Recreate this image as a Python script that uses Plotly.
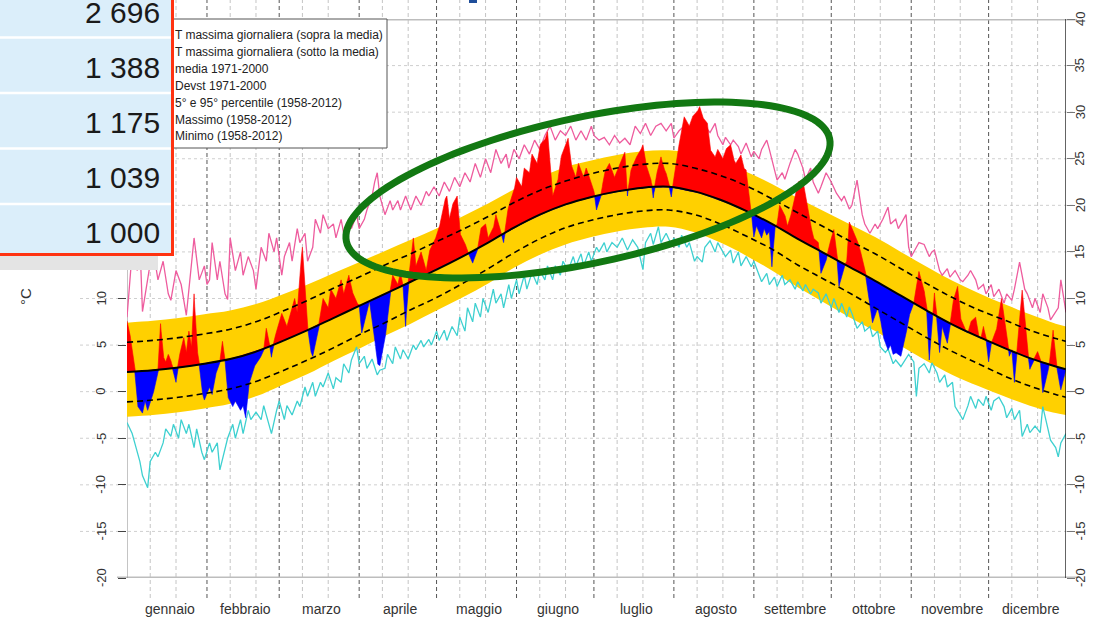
import numpy as np
import plotly.graph_objects as go

# ---------------------------------------------------------------------------
# Daily maximum temperature (°C) – climatology 1971-2000 sampled every 10 days
# ---------------------------------------------------------------------------
CLIM_DAY = list(range(0, 361, 10)) + [364]
MEAN = [2.1, 2.3, 2.6, 3.0, 3.5, 4.3, 5.4, 6.6, 7.9, 9.2, 10.5, 11.8, 13.1, 14.5,
        16.0, 17.6, 19.0, 20.1, 20.9, 21.5, 21.9, 22.0, 21.5, 20.6, 19.4, 18.0,
        16.4, 14.9, 13.4, 11.9, 10.3, 8.7, 7.2, 5.9, 4.7, 3.6, 2.7, 2.4]
SD = [3.2, 3.2, 3.2, 3.2, 3.2, 3.2, 3.2, 3.2, 3.2, 3.1, 3.1, 3.0, 3.0, 2.9,
      2.8, 2.7, 2.6, 2.5, 2.5, 2.5, 2.5, 2.5, 2.5, 2.6, 2.7, 2.7, 2.8, 2.8,
      2.8, 2.9, 2.9, 2.9, 2.9, 2.9, 3.0, 3.0, 3.0, 3.0]
P95 = [7.4, 7.6, 7.9, 8.3, 8.7, 9.4, 10.4, 11.5, 12.7, 13.9, 15.1, 16.3, 17.5,
       18.8, 20.2, 21.7, 23.0, 24.1, 24.8, 25.4, 25.8, 25.9, 25.5, 24.7, 23.6,
       22.3, 20.8, 19.4, 18.0, 16.6, 15.0, 13.4, 11.9, 10.6, 9.4, 8.3, 7.3, 7.0]
P05 = [-2.7, -2.5, -2.2, -1.8, -1.3, -0.5, 0.7, 1.9, 3.3, 4.6, 6.0, 7.3, 8.7,
       10.1, 11.6, 13.3, 14.7, 15.8, 16.6, 17.2, 17.6, 17.7, 17.1, 16.0, 14.6,
       13.0, 11.2, 9.6, 8.0, 6.5, 4.9, 3.3, 1.8, 0.6, -0.5, -1.5, -2.3, -2.5]

# Observed daily maximum of the year (day of year from 0)
OBS_DAY = [
    0, 1, 3, 4, 6, 7, 8, 9, 10, 12, 13, 14, 15, 16, 17, 18, 19, 20, 22, 23,
    24, 25, 26, 27, 28, 29, 30, 32, 33, 34, 36, 37, 38, 39, 41, 42, 44, 45, 46, 47,
    48, 49, 50, 52, 53, 54, 55, 56, 57, 59, 60, 62, 63, 65, 66, 67, 68, 69, 70, 71,
    72, 74, 75, 76, 78, 79, 81, 83, 84, 86, 87, 89, 90, 91, 93, 94, 96, 97, 98, 100,
    101, 102, 103, 105, 106, 107, 108, 109, 110, 111, 112, 114, 115, 116, 117, 119, 121, 123, 124, 125,
    126, 128, 129, 131, 132, 133, 134, 136, 137, 139, 140, 142, 143, 145, 146, 147, 148, 150, 151, 153,
    154, 156, 157, 159, 160, 162, 163, 164, 165, 167, 168, 170, 171, 172, 174, 175, 177, 178, 180, 181,
    182, 184, 185, 187, 189, 191, 193, 194, 195, 197, 199, 200, 201, 203, 204, 205, 207, 208, 209, 211,
    212, 214, 215, 216, 218, 219, 221, 222, 223, 225, 226, 228, 229, 231, 232, 234, 235, 236, 238, 239,
    240, 241, 242, 243, 244, 246, 247, 248, 249, 250, 251, 252, 253, 255, 256, 257, 259, 260, 262, 263,
    265, 266, 268, 269, 271, 272, 274, 275, 276, 278, 279, 280, 282, 284, 286, 288, 289, 291, 292, 293,
    295, 296, 297, 298, 300, 301, 302, 303, 305, 306, 307, 309, 310, 311, 312, 313, 314, 315, 316, 317,
    318, 319, 320, 322, 323, 325, 326, 327, 329, 330, 331, 332, 333, 334, 335, 337, 338, 339, 341, 342,
    343, 344, 345, 346, 347, 348, 349, 350, 352, 353, 354, 355, 357, 358, 359, 360, 361, 362, 364]
OBS_TMAX = [
    7.6, 6.5, 2.3, -1.5, -2.3, -1.0, -2.0, -1.2, -0.5, 2.4, 7.3, 3.8, 3.2, 4.0, 3.4, 2.0, 1.0, 3.5, 5.8, 4.2,
    6.5, 4.8, 10.5, 5.0, 2.9, 0.0, -0.9, 0.5, -0.3, 1.5, 3.3, 5.4, 3.4, -0.5, -1.6, -1.0, -2.0, -1.5, -2.8, 0.5,
    1.5, 2.5, 3.0, 3.8, 4.5, 6.8, 5.5, 3.7, 5.5, 7.5, 8.4, 7.0, 8.0, 10.0, 8.5, 13.0, 15.5, 11.0, 7.0, 4.5,
    3.8, 6.5, 8.5, 10.0, 9.0, 11.0, 10.0, 12.0, 10.5, 12.5, 11.0, 9.5, 9.3, 6.3, 8.5, 9.7, 6.0, 3.0, 2.8, 5.5,
    8.0, 10.8, 12.5, 11.5, 12.8, 11.3, 7.0, 11.8, 14.0, 16.5, 13.5, 15.0, 14.0, 13.0, 15.0, 16.0, 17.5, 20.5, 21.0, 18.5,
    20.0, 21.0, 17.0, 16.0, 15.0, 14.5, 13.8, 15.5, 17.5, 18.0, 16.5, 17.5, 19.0, 17.0, 16.0, 18.5, 20.0, 21.5, 23.0, 22.0,
    24.0, 23.5, 25.5, 24.5, 26.5, 27.0, 27.9, 25.0, 21.0, 22.5, 25.0, 26.5, 27.2, 24.5, 23.0, 24.5, 23.0, 24.0, 22.5, 21.5,
    19.5, 21.5, 23.5, 24.5, 23.0, 24.5, 25.7, 21.0, 23.5, 25.0, 25.8, 26.5, 24.5, 23.0, 20.8, 23.0, 25.2, 24.0, 23.5, 20.9,
    23.0, 26.5, 28.0, 29.5, 28.5, 29.5, 30.0, 30.6, 29.5, 28.8, 26.0, 25.2, 26.0, 25.0, 26.0, 26.5, 25.0, 24.5, 25.4, 24.0,
    23.8, 21.0, 19.3, 16.6, 17.8, 16.5, 17.5, 16.8, 17.2, 13.4, 17.5, 18.0, 20.0, 19.0, 17.8, 18.5, 21.0, 22.5, 22.7, 21.0,
    18.0, 16.5, 16.0, 12.7, 14.0, 15.5, 17.4, 15.0, 11.3, 13.5, 14.0, 18.2, 17.0, 15.5, 13.0, 9.5, 7.4, 9.0, 8.0, 6.0,
    4.5, 5.0, 4.0, 4.2, 3.8, 5.0, 6.0, 8.0, 9.5, 11.5, 12.9, 11.0, 8.6, 3.4, 7.0, 10.6, 7.5, 4.2, 7.0, 6.0,
    5.2, 7.0, 9.5, 11.3, 8.0, 6.5, 6.3, 7.5, 8.0, 6.0, 5.7, 7.0, 5.6, 3.2, 5.2, 6.5, 8.5, 10.0, 6.5, 3.8,
    4.5, 1.0, 4.5, 8.0, 10.9, 8.5, 4.5, 2.4, 3.8, 4.3, 3.5, -0.1, 2.0, 4.0, 6.6, 3.5, 1.5, 0.2, 2.4]

# Record maximum (1958-2012)
MAX_DAY = [
    0, 2, 4, 5, 6, 8, 10, 12, 14, 16, 17, 19, 21, 23, 24, 26, 28, 30, 31, 32,
    33, 35, 36, 38, 39, 40, 42, 44, 45, 47, 49, 50, 52, 54, 55, 57, 58, 60, 61, 63,
    64, 66, 67, 69, 70, 72, 73, 75, 76, 78, 80, 81, 83, 84, 86, 87, 89, 90, 92, 93,
    95, 96, 97, 98, 100, 102, 103, 105, 106, 108, 110, 112, 114, 116, 117, 119, 121, 123, 125, 127,
    129, 131, 133, 135, 137, 139, 141, 143, 145, 147, 148, 150, 152, 154, 156, 158, 160, 162, 164, 166,
    168, 170, 172, 174, 176, 178, 180, 181, 183, 185, 187, 189, 191, 193, 195, 197, 199, 201, 203, 205,
    207, 209, 211, 212, 214, 216, 218, 220, 222, 224, 226, 228, 229, 231, 232, 234, 235, 237, 238, 240,
    242, 243, 245, 246, 248, 249, 251, 252, 254, 255, 257, 259, 260, 262, 263, 265, 266, 268, 269, 271,
    273, 275, 277, 278, 280, 281, 283, 285, 286, 288, 290, 291, 293, 295, 296, 298, 299, 301, 302, 303,
    304, 306, 307, 309, 311, 312, 313, 315, 316, 318, 319, 321, 323, 324, 326, 327, 329, 330, 332, 333,
    335, 336, 338, 340, 341, 343, 344, 346, 348, 349, 351, 352, 354, 355, 357, 358, 360, 361, 362, 364]
MAX_T = [
    8.0, 15.0, 13.0, 16.0, 8.6, 12.0, 15.5, 12.0, 14.0, 10.5, 9.8, 13.0, 11.5, 8.2, 11.0, 16.5, 12.0, 13.5, 11.5, 12.0,
    16.0, 12.0, 14.0, 10.5, 9.9, 16.5, 13.0, 15.0, 12.5, 14.5, 13.0, 11.0, 15.5, 14.0, 17.0, 15.0, 16.5, 12.5, 14.5, 16.0,
    14.0, 17.5, 16.0, 17.0, 14.0, 15.5, 18.5, 17.0, 19.0, 17.5, 18.0, 16.5, 18.5, 17.0, 18.5, 17.5, 19.0, 17.5, 18.5, 19.5,
    21.0, 22.5, 23.5, 21.0, 19.0, 20.5, 19.5, 20.5, 19.5, 21.0, 19.5, 21.0, 20.0, 21.5, 21.0, 22.0, 21.0, 22.5, 21.5, 23.0,
    22.0, 23.5, 22.5, 24.5, 23.0, 25.0, 23.5, 26.0, 24.5, 25.5, 24.0, 26.0, 25.0, 26.5, 25.5, 27.0, 26.0, 27.5, 28.5, 27.0,
    28.0, 27.5, 28.5, 27.0, 28.0, 27.0, 28.5, 27.5, 27.0, 27.3, 26.5, 27.5, 26.7, 27.2, 26.5, 28.5, 27.7, 28.8, 27.5, 28.5,
    28.8, 28.0, 28.8, 27.2, 28.0, 28.5, 28.0, 28.5, 29.0, 28.5, 27.8, 28.8, 27.5, 26.5, 27.3, 26.5, 27.0, 26.3, 25.5, 26.7,
    25.2, 25.8, 25.0, 26.0, 27.0, 26.0, 24.0, 22.7, 23.5, 22.8, 24.5, 26.0, 25.5, 24.0, 22.8, 24.0, 22.5, 21.3, 22.0, 23.5,
    22.5, 21.3, 20.5, 21.0, 19.6, 20.0, 22.7, 19.0, 18.0, 17.0, 18.0, 17.5, 18.5, 19.8, 18.0, 18.5, 17.5, 18.5, 19.0, 15.5,
    14.5, 15.5, 16.0, 15.8, 14.5, 15.0, 15.2, 13.0, 12.5, 13.2, 12.3, 13.0, 12.0, 11.8, 12.5, 13.0, 12.0, 11.0, 11.5, 10.5,
    11.5, 10.2, 11.0, 9.5, 10.5, 9.8, 11.0, 13.9, 11.0, 10.5, 9.0, 10.0, 8.5, 10.5, 9.0, 7.7, 8.5, 9.0, 12.0, 8.5]

# Record minimum (1958-2012)
MIN_DAY = [
    0, 2, 3, 5, 6, 8, 9, 11, 12, 14, 15, 17, 18, 20, 21, 23, 24, 26, 27, 29,
    30, 32, 33, 35, 36, 38, 39, 41, 42, 44, 45, 47, 48, 50, 52, 53, 55, 56, 58, 59,
    61, 62, 64, 66, 67, 69, 70, 72, 73, 75, 76, 78, 80, 81, 83, 84, 86, 87, 89, 90,
    92, 93, 95, 97, 98, 100, 101, 103, 104, 106, 107, 109, 111, 112, 114, 115, 117, 118, 120, 121,
    123, 124, 126, 128, 129, 131, 132, 134, 135, 137, 138, 140, 142, 143, 145, 146, 148, 149, 151, 152,
    154, 155, 157, 159, 160, 162, 163, 165, 166, 168, 169, 171, 173, 174, 176, 177, 179, 180, 182, 183,
    185, 186, 188, 190, 192, 194, 196, 198, 200, 201, 203, 204, 206, 207, 209, 211, 212, 214, 215, 217,
    218, 220, 221, 223, 224, 226, 228, 229, 231, 232, 234, 235, 237, 238, 240, 242, 243, 245, 246, 248,
    249, 251, 252, 254, 255, 257, 259, 260, 262, 263, 265, 266, 268, 269, 271, 273, 274, 276, 277, 279,
    280, 281, 283, 285, 286, 288, 289, 291, 292, 294, 295, 297, 298, 300, 302, 303, 305, 306, 307, 309,
    311, 312, 314, 315, 317, 318, 320, 321, 323, 324, 326, 327, 329, 330, 332, 333, 335, 336, 338, 340,
    341, 343, 344, 346, 347, 349, 350, 352, 354, 355, 357, 358, 360, 361, 362, 364]
MIN_T = [
    -3.3, -4.5, -5.5, -7.5, -9.0, -10.3, -7.5, -6.5, -7.0, -5.5, -4.0, -4.8, -3.5, -5.0, -3.0, -4.5, -3.5, -6.0, -4.0, -6.5,
    -7.3, -5.5, -6.5, -5.5, -8.4, -6.0, -5.0, -3.5, -5.0, -3.0, -4.5, -2.0, -3.0, -2.2, -3.0, -1.5, -3.5, -4.5, -2.0, -1.0,
    -3.0, -1.5, -2.5, -1.0, -1.6, 0.5, -0.5, 1.0, -0.5, 1.0, 0.5, 2.0, 0.3, 1.5, 1.0, 3.0, 2.0, 3.4, 4.8, 3.0,
    3.8, 2.5, 3.5, 1.8, 2.3, 2.5, 4.0, 3.0, 4.8, 3.5, 4.5, 3.5, 5.0, 4.5, 5.5, 4.8, 5.6, 5.0, 6.5, 5.5,
    6.6, 5.5, 7.0, 6.0, 8.0, 6.5, 9.0, 7.5, 9.5, 8.0, 10.0, 8.5, 11.0, 9.5, 10.5, 9.0, 11.5, 10.0, 12.0, 10.5,
    12.5, 11.0, 12.8, 11.5, 13.0, 12.0, 13.5, 12.0, 13.5, 12.5, 14.0, 13.0, 14.5, 13.5, 14.8, 13.5, 15.0, 14.0, 15.5, 15.0,
    16.0, 15.0, 16.0, 15.5, 16.5, 15.2, 16.3, 15.5, 13.1, 16.0, 17.0, 15.8, 17.7, 16.0, 17.0, 15.8, 16.5, 15.5, 16.8, 15.5,
    16.0, 14.0, 14.5, 13.9, 15.5, 16.2, 15.0, 16.0, 15.0, 14.5, 15.2, 13.8, 15.0, 13.5, 14.5, 13.4, 14.0, 12.5, 11.8, 12.7,
    11.5, 12.3, 11.3, 12.5, 11.5, 12.0, 11.0, 11.8, 10.8, 11.5, 10.5, 11.0, 10.6, 9.5, 10.5, 9.0, 10.0, 8.5, 9.5, 8.0,
    9.1, 8.4, 6.8, 7.5, 6.5, 7.0, 5.9, 6.5, 4.8, 4.2, 4.6, 3.0, 3.4, 2.7, 3.5, 4.0, 3.2, -0.5, 2.5, 3.0,
    2.0, 3.1, 2.0, 1.0, 1.8, 0.5, 1.0, -1.6, -2.5, -3.0, -1.5, -0.5, -1.8, -0.8, -1.5, -0.5, -2.0, -1.0, -0.6, -1.6,
    -2.8, -1.8, -3.0, -2.0, -4.8, -3.5, -4.4, -3.7, -4.4, -1.6, -4.0, -5.2, -6.0, -7.0, -5.5, -4.5]

MONTHS = ["gennaio", "febbraio", "marzo", "aprile", "maggio", "giugno",
          "luglio", "agosto", "settembre", "ottobre", "novembre", "dicembre"]
MONTH_LEN = [31, 28, 31, 30, 31, 30, 31, 31, 30, 31, 30, 31]
Y_TICKS = list(range(-20, 41, 5))
LEGEND_LABELS = [
    "T massima giornaliera (sopra la media)",
    "T massima giornaliera (sotto la media)",
    "media 1971-2000",
    "Devst 1971-2000",
    "5° e 95° percentile (1958-2012)",
    "Massimo (1958-2012)",
    "Minimo (1958-2012)",
]
TABLE_NUMBERS = ["2 696", "1 388", "1 175", "1 039", "1 000"]

# ---------------------------------------------------------------------------
# Page geometry (pixels) and helpers to place decorations in paper units
# ---------------------------------------------------------------------------
FIG_W, FIG_H = 1104, 617
PX_L, PX_R, PX_T, PX_B = 127, 1066, 19, 578
TABLE_BOTTOM = 255  # the panel on the left hides everything above this row


def fx(p):
    return (p - PX_L) / (PX_R - PX_L)


def fy(p):
    return (PX_B - p) / (PX_B - PX_T)


def y_px(v):
    return PX_B - (v + 20) / 60 * (PX_B - PX_T)


FONT = "Liberation Sans"
GOLD = "#FFD000"
PINK = "#EE5C9E"
CYAN = "#3ED0D0"

fig = go.Figure()

# 5th-95th percentile band
fig.add_trace(go.Scatter(x=CLIM_DAY, y=P05, mode="lines",
                         line=dict(width=0, color=GOLD, shape="spline"),
                         hoverinfo="skip", showlegend=False))
fig.add_trace(go.Scatter(x=CLIM_DAY, y=P95, mode="lines", fill="tonexty",
                         fillcolor=GOLD, line=dict(width=0, color=GOLD, shape="spline"),
                         hoverinfo="skip", showlegend=False))

# record maximum / minimum
fig.add_trace(go.Scatter(x=MAX_DAY, y=MAX_T, mode="lines",
                         line=dict(color=PINK, width=1.3), showlegend=False))
fig.add_trace(go.Scatter(x=MIN_DAY, y=MIN_T, mode="lines",
                         line=dict(color=CYAN, width=1.3), showlegend=False))

# anomaly fill: red above the mean, blue below it
t = np.linspace(0, 364, 364 * 8 + 1)
obs_f = np.interp(t, OBS_DAY, OBS_TMAX)
mean_f = np.interp(t, CLIM_DAY, MEAN)
for part, col in ((np.maximum(obs_f, mean_f), "#FF0000"),
                  (np.minimum(obs_f, mean_f), "#0000FF")):
    fig.add_trace(go.Scatter(x=t, y=mean_f, mode="lines", line=dict(width=0),
                             hoverinfo="skip", showlegend=False))
    fig.add_trace(go.Scatter(x=t, y=part, mode="lines", fill="tonexty",
                             fillcolor=col, line=dict(width=0.6, color=col),
                             hoverinfo="skip", showlegend=False))

# mean +/- standard deviation
mean_arr = np.array(MEAN)
sd_arr = np.array(SD)
for sgn in (1, -1):
    fig.add_trace(go.Scatter(x=CLIM_DAY, y=mean_arr + sgn * sd_arr, mode="lines",
                             line=dict(color="black", width=1.6, dash="6px,4px",
                                       shape="spline"),
                             hoverinfo="skip", showlegend=False))
# climatological mean
fig.add_trace(go.Scatter(x=CLIM_DAY, y=MEAN, mode="lines",
                         line=dict(color="black", width=2, shape="spline"),
                         showlegend=False))
# right-hand axis carrier
fig.add_trace(go.Scatter(x=[None], y=[None], yaxis="y2", showlegend=False))

shapes = []
annotations = []


def label(x, y, text, size, color="#333333", angle=0, xanchor="center",
          xref="paper", yref="paper"):
    annotations.append(dict(xref=xref, yref=yref, x=x, y=y, text=text,
                            showarrow=False, textangle=angle,
                            xanchor=xanchor, yanchor="middle",
                            font=dict(family=FONT, size=size, color=color)))


# horizontal dotted grid
for v in range(-15, 40, 5):
    shapes.append(dict(type="line", xref="paper", yref="y", x0=fx(80), x1=fx(1076),
                       y0=v, y1=v, layer="below",
                       line=dict(color="#cfcfcf", width=1, dash="dot")))

# vertical grid: month starts (dark) and 10th / 20th of each month (light)
month_start = np.cumsum([0] + MONTH_LEN[:-1])
for s in month_start:
    for off in (9, 19):
        shapes.append(dict(type="line", xref="x", yref="paper", x0=s + off, x1=s + off,
                           y0=fy(598), y1=fy(0), layer="below",
                           line=dict(color="#c4c4c4", width=1, dash="4px,3px")))
    if s > 0:
        shapes.append(dict(type="line", xref="x", yref="paper", x0=s, x1=s,
                           y0=fy(598), y1=fy(0), layer="below",
                           line=dict(color="#555555", width=1, dash="4px,3px")))

# frame lines at 40 and -20
for v in (40, -20):
    shapes.append(dict(type="line", xref="paper", yref="y", x0=fx(117), x1=fx(1077),
                       y0=v, y1=v, layer="below", line=dict(color="#bdbdbd", width=3)))
# vertical axis lines
shapes.append(dict(type="line", xref="x", yref="y", x0=0, x1=0, y0=-20, y1=40,
                   layer="below", line=dict(color="#8a8a8a", width=1)))
shapes.append(dict(type="line", xref="x", yref="y", x0=364, x1=364, y0=-20, y1=40,
                   layer="above", line=dict(color="#111111", width=1.3)))

# tick labels (rotated); the left ones above the panel edge are hidden by it
for v in Y_TICKS:
    if y_px(v) > TABLE_BOTTOM + 8:
        label(fx(101), v, str(v), 13, angle=-90, yref="y")
    label(fx(1080), v, str(v), 13, angle=-90, yref="y")

# month labels
for i, (m, n) in enumerate(zip(MONTHS, MONTH_LEN)):
    label(month_start[i] + n / 2 + 1, fy(609), m, 14, xref="x")

label(fx(25), fy(297), "°C", 15, angle=-90)

# legend box
shapes.append(dict(type="rect", xref="paper", yref="paper", x0=fx(172), x1=fx(387),
                   y0=fy(148), y1=fy(19), fillcolor="white", layer="above",
                   line=dict(color="#555555", width=1)))
for i, lab in enumerate(LEGEND_LABELS):
    label(fx(173), fy(35 + 16.9 * i), lab, 12, color="#222222", xanchor="left")

# highlight ellipse
th = np.radians(12.0)
cx, cy, a, b = 588, 190, 247, 73
tt = np.linspace(0, 2 * np.pi, 145)
ex = cx + a * np.cos(tt) * np.cos(th) + b * np.sin(tt) * np.sin(th)
ey = cy - a * np.cos(tt) * np.sin(th) + b * np.sin(tt) * np.cos(th)
path = "M " + " L ".join(f"{fx(x):.5f},{fy(y):.5f}" for x, y in zip(ex, ey)) + " Z"
shapes.append(dict(type="path", xref="paper", yref="paper", path=path, layer="above",
                   line=dict(color="#127812", width=7)))

# table panel
shapes.append(dict(type="rect", xref="paper", yref="paper", x0=fx(-5), x1=fx(172),
                   y0=fy(253), y1=fy(-5), fillcolor="#DBEEFA", layer="above",
                   line=dict(width=0)))
for yp in (37.5, 93, 148.5, 204):
    shapes.append(dict(type="line", xref="paper", yref="paper", x0=fx(-5), x1=fx(171),
                       y0=fy(yp), y1=fy(yp), layer="above",
                       line=dict(color="white", width=2.5)))
shapes.append(dict(type="line", xref="paper", yref="paper", x0=fx(172.5), x1=fx(172.5),
                   y0=fy(255.5), y1=fy(-5), layer="above",
                   line=dict(color="#FF3311", width=3)))
shapes.append(dict(type="line", xref="paper", yref="paper", x0=fx(-5), x1=fx(174),
                   y0=fy(254.5), y1=fy(254.5), layer="above",
                   line=dict(color="#FF3311", width=3)))
shapes.append(dict(type="rect", xref="paper", yref="paper", x0=fx(-5), x1=fx(158),
                   y0=fy(270), y1=fy(256), fillcolor="#E4E4E4", layer="above",
                   line=dict(width=0)))
for i, num in enumerate(TABLE_NUMBERS):
    label(fx(162), fy(12 + 55.2 * i), num, 30, color="#1a1a1a", xanchor="right")

# heading fragment at the top edge
shapes.append(dict(type="rect", xref="paper", yref="paper", x0=fx(469), x1=fx(477),
                   y0=fy(3), y1=fy(-2), fillcolor="#1F4E9A", layer="above",
                   line=dict(width=0)))

fig.update_layout(
    width=FIG_W, height=FIG_H,
    margin=dict(l=PX_L, r=FIG_W - PX_R, t=PX_T, b=FIG_H - PX_B, pad=0),
    paper_bgcolor="white", plot_bgcolor="white",
    showlegend=False,
    xaxis=dict(range=[0, 364], showgrid=False, zeroline=False, showline=False,
               showticklabels=False, ticks=""),
    yaxis=dict(range=[-20, 40], showgrid=False, zeroline=False, showline=False,
               tickvals=Y_TICKS, ticks="outside", ticklen=8, tickwidth=1,
               tickcolor="#444444", showticklabels=False),
    yaxis2=dict(range=[-20, 40], overlaying="y", side="right", showgrid=False,
                zeroline=False, showline=False, tickvals=Y_TICKS, ticks="outside",
                ticklen=8, tickwidth=1, tickcolor="#777777", showticklabels=False),
    shapes=shapes,
    annotations=annotations,
)

fig.write_html("out.html")
